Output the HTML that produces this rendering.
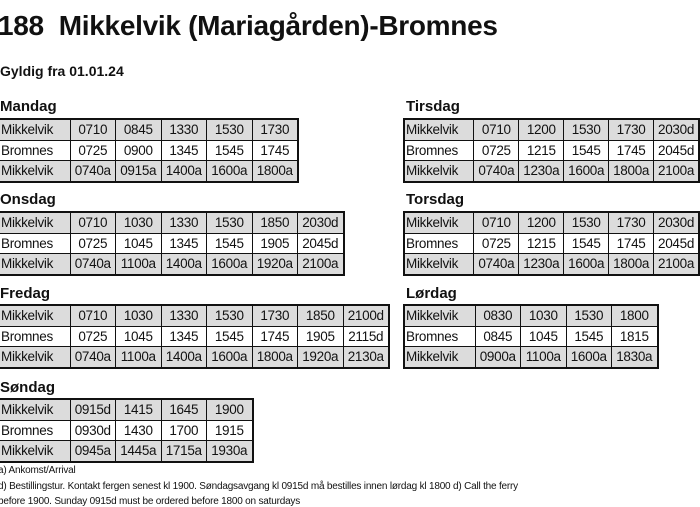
<!DOCTYPE html>
<html><head><meta charset="utf-8"><style>
body{margin:0;width:700px;height:500px;overflow:hidden;background:#fff;font-family:"Liberation Sans",sans-serif;color:#111;position:relative}
.t{position:absolute;font-weight:bold;white-space:nowrap}
h1{position:absolute;left:-2px;top:10px;margin:0;font-size:28px;font-weight:bold;letter-spacing:-0.3px;white-space:nowrap}
table{position:absolute;border-collapse:collapse;border:2px solid #111;table-layout:fixed;font-size:13.5px}
td{border:1.5px solid #111;height:19.5px;padding:0;text-align:center;white-space:nowrap;overflow:hidden;letter-spacing:-0.3px}
td:first-child{text-align:left;padding-left:1px;width:68.5px}
td{width:44.5px}
tr.g td{background:#dcdcdc}
.h{font-size:15px;font-weight:bold;position:absolute}
.f{position:absolute;left:-2px;font-size:10px;white-space:nowrap;letter-spacing:-0.2px}
</style></head><body>
<h1>188&nbsp;&nbsp;Mikkelvik (Mariagården)-Bromnes</h1>
<div class="t" style="left:0;top:63px;font-size:14px">Gyldig fra 01.01.24</div>

<div class="h" style="left:0;top:98px">Mandag</div>
<table style="left:-2px;top:118px">
<tr class="g"><td>Mikkelvik</td><td>0710</td><td>0845</td><td>1330</td><td>1530</td><td>1730</td></tr>
<tr><td>Bromnes</td><td>0725</td><td>0900</td><td>1345</td><td>1545</td><td>1745</td></tr>
<tr class="g"><td>Mikkelvik</td><td>0740a</td><td>0915a</td><td>1400a</td><td>1600a</td><td>1800a</td></tr>
</table>

<div class="h" style="left:406px;top:98px">Tirsdag</div>
<table style="left:403px;top:118px">
<tr class="g"><td>Mikkelvik</td><td>0710</td><td>1200</td><td>1530</td><td>1730</td><td>2030d</td></tr>
<tr><td>Bromnes</td><td>0725</td><td>1215</td><td>1545</td><td>1745</td><td>2045d</td></tr>
<tr class="g"><td>Mikkelvik</td><td>0740a</td><td>1230a</td><td>1600a</td><td>1800a</td><td>2100a</td></tr>
</table>

<div class="h" style="left:0;top:191px">Onsdag</div>
<table style="left:-2px;top:211px">
<tr class="g"><td>Mikkelvik</td><td>0710</td><td>1030</td><td>1330</td><td>1530</td><td>1850</td><td>2030d</td></tr>
<tr><td>Bromnes</td><td>0725</td><td>1045</td><td>1345</td><td>1545</td><td>1905</td><td>2045d</td></tr>
<tr class="g"><td>Mikkelvik</td><td>0740a</td><td>1100a</td><td>1400a</td><td>1600a</td><td>1920a</td><td>2100a</td></tr>
</table>

<div class="h" style="left:406px;top:191px">Torsdag</div>
<table style="left:403px;top:211px">
<tr class="g"><td>Mikkelvik</td><td>0710</td><td>1200</td><td>1530</td><td>1730</td><td>2030d</td></tr>
<tr><td>Bromnes</td><td>0725</td><td>1215</td><td>1545</td><td>1745</td><td>2045d</td></tr>
<tr class="g"><td>Mikkelvik</td><td>0740a</td><td>1230a</td><td>1600a</td><td>1800a</td><td>2100a</td></tr>
</table>

<div class="h" style="left:0;top:285px">Fredag</div>
<table style="left:-2px;top:304px">
<tr class="g"><td>Mikkelvik</td><td>0710</td><td>1030</td><td>1330</td><td>1530</td><td>1730</td><td>1850</td><td>2100d</td></tr>
<tr><td>Bromnes</td><td>0725</td><td>1045</td><td>1345</td><td>1545</td><td>1745</td><td>1905</td><td>2115d</td></tr>
<tr class="g"><td>Mikkelvik</td><td>0740a</td><td>1100a</td><td>1400a</td><td>1600a</td><td>1800a</td><td>1920a</td><td>2130a</td></tr>
</table>

<div class="h" style="left:406px;top:285px">Lørdag</div>
<table style="left:403px;top:304px">
<tr class="g"><td>Mikkelvik</td><td>0830</td><td>1030</td><td>1530</td><td>1800</td></tr>
<tr><td>Bromnes</td><td>0845</td><td>1045</td><td>1545</td><td>1815</td></tr>
<tr class="g"><td>Mikkelvik</td><td>0900a</td><td>1100a</td><td>1600a</td><td>1830a</td></tr>
</table>

<div class="h" style="left:0;top:379px">Søndag</div>
<table style="left:-2px;top:398px">
<tr class="g"><td>Mikkelvik</td><td>0915d</td><td>1415</td><td>1645</td><td>1900</td></tr>
<tr><td>Bromnes</td><td>0930d</td><td>1430</td><td>1700</td><td>1915</td></tr>
<tr class="g"><td>Mikkelvik</td><td>0945a</td><td>1445a</td><td>1715a</td><td>1930a</td></tr>
</table>

<div class="f" style="top:465px">a) Ankomst/Arrival</div>
<div class="f" style="top:481px">d) Bestillingstur. Kontakt fergen senest kl 1900. Søndagsavgang kl 0915d må bestilles innen lørdag kl 1800 d) Call the ferry</div>
<div class="f" style="top:496px">before 1900. Sunday 0915d must be ordered before 1800 on saturdays</div>
</body></html>
